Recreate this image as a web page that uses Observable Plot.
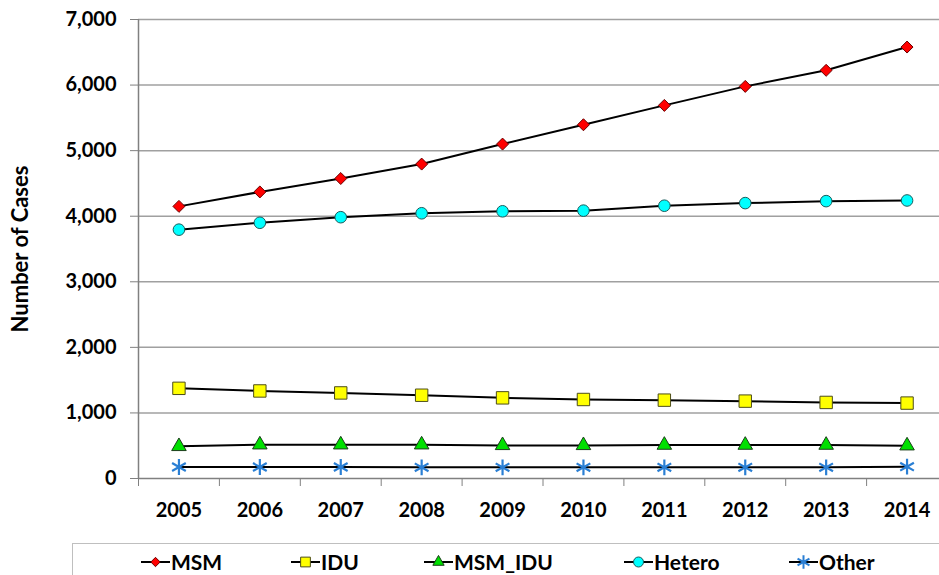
<!DOCTYPE html>
<html>
<head>
<meta charset="utf-8">
<script src="https://cdn.jsdelivr.net/npm/d3@7"></script>
<script src="https://cdn.jsdelivr.net/npm/@observablehq/plot@0.6"></script>
<style>
  html, body { margin: 0; padding: 0; background: #fff; overflow: hidden; }
  #wrap { position: relative; width: 939px; height: 575px; overflow: hidden; font-family: Lato, "Open Sans", sans-serif; }
  #legend { position: absolute; left: 72px; top: 543px; width: 900px; height: 45px; border: 1px solid #bfbfbf; box-sizing: border-box; }
  .item { position: absolute; top: 5px; display: flex; align-items: center; font-size: 21px; font-weight: bold; color: #000; }
  .item svg { display: block; margin-right: 1px; }
</style>
</head>
<body>
<div id="wrap"><div id="chart"></div><div id="legend"></div></div>
<script>
const years = [2005, 2006, 2007, 2008, 2009, 2010, 2011, 2012, 2013, 2014];
const msm    = [4150, 4370, 4575, 4795, 5100, 5395, 5690, 5980, 6225, 6580];
const idu    = [1375, 1335, 1305, 1270, 1230, 1205, 1195, 1180, 1160, 1150];
const msmIdu = [490, 515, 515, 515, 505, 505, 510, 510, 510, 500];
const hetero = [3795, 3900, 3985, 4045, 4075, 4085, 4160, 4200, 4230, 4240];
const other  = [175, 175, 175, 170, 170, 170, 170, 170, 170, 180];
const seriesNames = ["MSM", "IDU", "MSM_IDU", "Hetero", "Other"];
const yTicks = [0, 1000, 2000, 3000, 4000, 5000, 6000, 7000];

const styles = {
  MSM:     {symbol: "diamond2", fill: "#ff0000", stroke: "#6b0000", r: 5.4, legendR: 4.2},
  IDU:     {symbol: "square",   fill: "#ffff00", stroke: "#4d4d1a", r: 7,   legendR: 5.5},
  MSM_IDU: {symbol: "triangle", fill: "#00e000", stroke: "#1a3d1a", r: 5.4, legendR: 4.2},
  Hetero:  {symbol: "circle",   fill: "#00ffff", stroke: "#1a5c5c", r: 5.8, legendR: 5},
  Other:   {symbol: "asterisk", fill: "none",    stroke: "#2a7fd4", r: 7.5, legendR: 6.5}
};
const valuesBySeries = {MSM: msm, IDU: idu, MSM_IDU: msmIdu, Hetero: hetero, Other: other};

const rows = seriesNames.flatMap(s => years.map((y, i) => ({series: s, year: y, value: valuesBySeries[s][i]})));
const bounds = [...years.map(y => y - 0.5), years[years.length - 1] + 0.5];

const marks = [
  Plot.ruleY(yTicks.slice(1), {y: d => d, stroke: "#a0a0a0", strokeWidth: 1.5}),
  Plot.ruleX([bounds[0]], {x: d => d, y1: 0, y2: 7000, stroke: "#808080", strokeWidth: 1.5}),
  Plot.ruleY([0], {y: d => d, stroke: "#808080", strokeWidth: 1.5}),
  Plot.axisY(yTicks, {tickSize: 8, tickPadding: 14, tickFormat: d3.format(","), fontSize: 20, fontWeight: "bold", fill: "#000", stroke: "#808080", label: null}),
  Plot.axisX(years, {tickSize: 0, tickPadding: 24, tickFormat: d => String(d), fontSize: 20, fontWeight: "bold", fill: "#000", label: null}),
  Plot.axisX(bounds, {tickSize: 8, tickFormat: () => "", stroke: "#808080", label: null}),
  Plot.text(["Number of Cases"], {frameAnchor: "left", textAnchor: "middle", rotate: -90, dx: -118, fontSize: 22, fontWeight: "bold", fill: "#000"}),
  Plot.line(rows, {x: "year", y: "value", z: "series", stroke: "#000", strokeWidth: 2})
];
for (const s of seriesNames) {
  const st = styles[s];
  marks.push(Plot.dot(rows.filter(d => d.series === s), {
    x: "year", y: "value", symbol: () => st.symbol, r: st.r,
    fill: st.fill, stroke: st.stroke, strokeWidth: s === "Other" ? 2.2 : 1
  }));
}

const chart = Plot.plot({
  width: 939,
  height: 530,
  marginLeft: 138,
  marginRight: 0,
  marginTop: 19,
  marginBottom: 52,
  style: {fontFamily: "Lato, 'Open Sans', sans-serif", background: "#fff", overflow: "visible"},
  x: {type: "linear", domain: [bounds[0], bounds[bounds.length - 1]], range: [138, 947], axis: null},
  y: {type: "linear", domain: [0, 7000], axis: null},
  symbol: {type: "identity"},
  marks
});
document.getElementById("chart").appendChild(chart);

// Legend
const legendX = [68, 218, 351, 551, 716];
const legend = document.getElementById("legend");
seriesNames.forEach((s, i) => {
  const st = styles[s];
  const item = document.createElement("div");
  item.className = "item";
  item.style.left = legendX[i] + "px";
  const ns = "http://www.w3.org/2000/svg";
  const svg = document.createElementNS(ns, "svg");
  svg.setAttribute("width", 29);
  svg.setAttribute("height", 24);
  const line = document.createElementNS(ns, "line");
  line.setAttribute("x1", 0); line.setAttribute("x2", 29);
  line.setAttribute("y1", 12); line.setAttribute("y2", 12);
  line.setAttribute("stroke", "#000"); line.setAttribute("stroke-width", 2);
  svg.appendChild(line);
  const symMap = {diamond2: d3.symbolDiamond2, square: d3.symbolSquare, triangle: d3.symbolTriangle, circle: d3.symbolCircle, asterisk: d3.symbolAsterisk};
  const p = document.createElementNS(ns, "path");
  p.setAttribute("d", d3.symbol(symMap[st.symbol], Math.PI * st.legendR * st.legendR)());
  p.setAttribute("transform", "translate(14.5,12)");
  p.setAttribute("fill", st.fill);
  p.setAttribute("stroke", st.stroke);
  p.setAttribute("stroke-width", s === "Other" ? 2 : 1);
  svg.appendChild(p);
  item.appendChild(svg);
  const t = document.createElement("span");
  t.textContent = s;
  item.appendChild(t);
  legend.appendChild(item);
});
</script>
</body>
</html>
